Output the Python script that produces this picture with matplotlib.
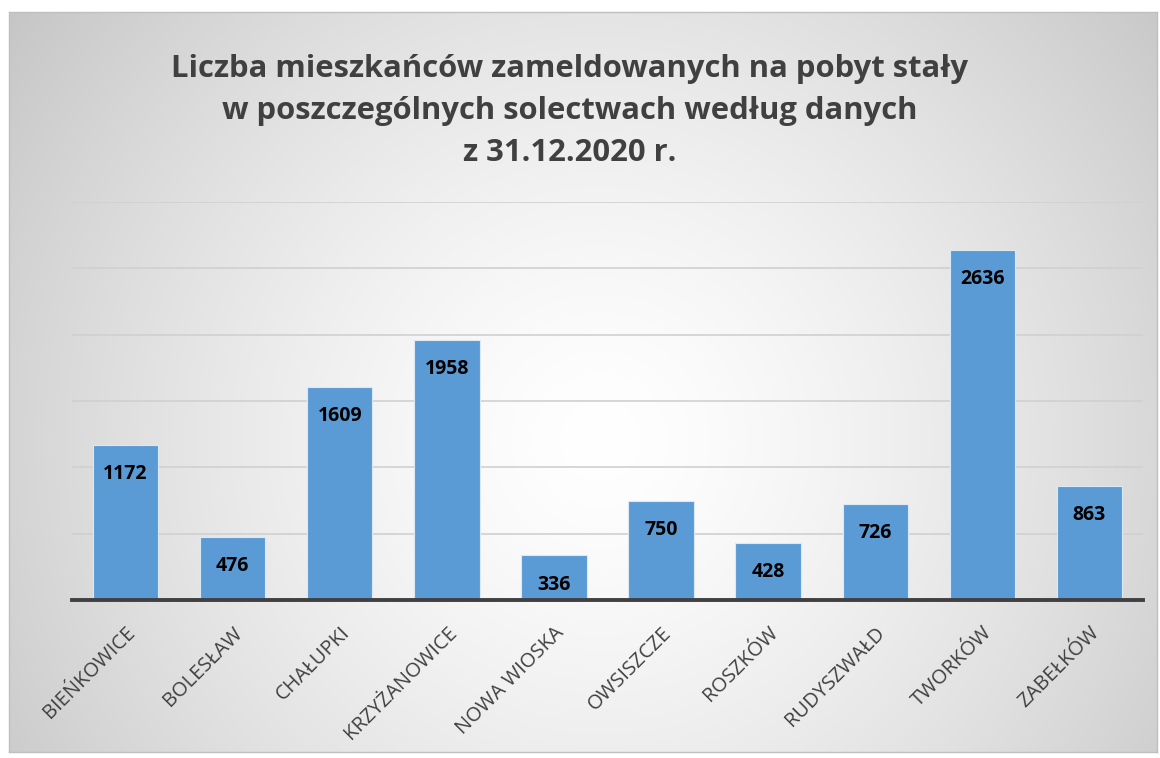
import numpy as np
import matplotlib.pyplot as plt

# dane z wykresu
solectwa = ['BIEŃKOWICE', 'BOLESŁAW', 'CHAŁUPKI', 'KRZYŻANOWICE', 'NOWA WIOSKA',
            'OWSISZCZE', 'ROSZKÓW', 'RUDYSZWAŁD', 'TWORKÓW', 'ZABEŁKÓW']
mieszkancy = [1172, 476, 1609, 1958, 336, 750, 428, 726, 2636, 863]
tytul = ('Liczba mieszkańców zameldowanych na pobyt stały\n'
         'w poszczególnych solectwach według danych\n'
         'z 31.12.2020 r.')

W, H = 1160, 758
plt.rcParams['font.family'] = ['Open Sans', 'DejaVu Sans']

fig = plt.figure(figsize=(W / 100, H / 100), dpi=100)
fig.patch.set_facecolor('white')

# tlo z gradientem radialnym
x0, y0, x1, y1 = 9, 12, 1157, 752
bg = fig.add_axes([x0 / W, 1 - y1 / H, (x1 - x0) / W, (y1 - y0) / H])
gx, gy = np.meshgrid(np.arange(x0, x1), np.arange(y0, y1))
cx, cy = 600, 440
r = np.sqrt((gx - cx) ** 2 + (gy - cy) ** 2) / 720.0
r = np.clip(r, 0, 1)
shade = 1.0 - 0.22 * r ** 1.4
bg.imshow(np.dstack([shade, shade, shade]), aspect='auto', extent=[0, 1, 0, 1])
bg.set_xlim(0, 1)
bg.set_ylim(0, 1)
bg.set_xticks([])
bg.set_yticks([])
for s in bg.spines.values():
    s.set_color('#bfbfbf')
    s.set_linewidth(1)
bg.set_zorder(0)

# wykres slupkowy
ax = fig.add_axes([72 / W, 1 - 600 / H, 1071 / W, 398 / H])
ax.set_zorder(1)
ax.patch.set_alpha(0)
x = np.arange(len(solectwa))
ax.bar(x, mieszkancy, width=0.61, color='#5b9bd5', edgecolor='#dce9f5',
       linewidth=0.8, zorder=3)
ax.set_xlim(-0.5, len(solectwa) - 0.5)
ax.set_ylim(0, 3000)
ax.set_yticks(np.arange(0, 3001, 500))
ax.yaxis.grid(True, color='#d0d0d0', linewidth=1.2, zorder=0)
ax.tick_params(axis='y', left=False, labelleft=False)
ax.tick_params(axis='x', bottom=False, pad=13)
for s in ['top', 'right', 'left']:
    ax.spines[s].set_visible(False)
ax.spines['bottom'].set_color('#404040')
ax.spines['bottom'].set_linewidth(2.8)
ax.spines['bottom'].set_zorder(4)

ax.set_xticks(x)
ax.set_xticklabels(solectwa, rotation=45, ha='right', va='top',
                   rotation_mode='anchor', fontsize=14.5, color='#404040')

for xi, v in zip(x, mieszkancy):
    ax.annotate(str(v), (xi, v), xytext=(0, -21), textcoords='offset points',
                ha='center', va='center', fontsize=14, fontweight='bold',
                color='black', zorder=5)

fig.text(570 / W, 1 - 111 / H, tytul, ha='center', va='center',
         fontsize=22.3, fontweight='bold', color='#404040', linespacing=1.52)

fig.savefig('out.png', dpi=100)
